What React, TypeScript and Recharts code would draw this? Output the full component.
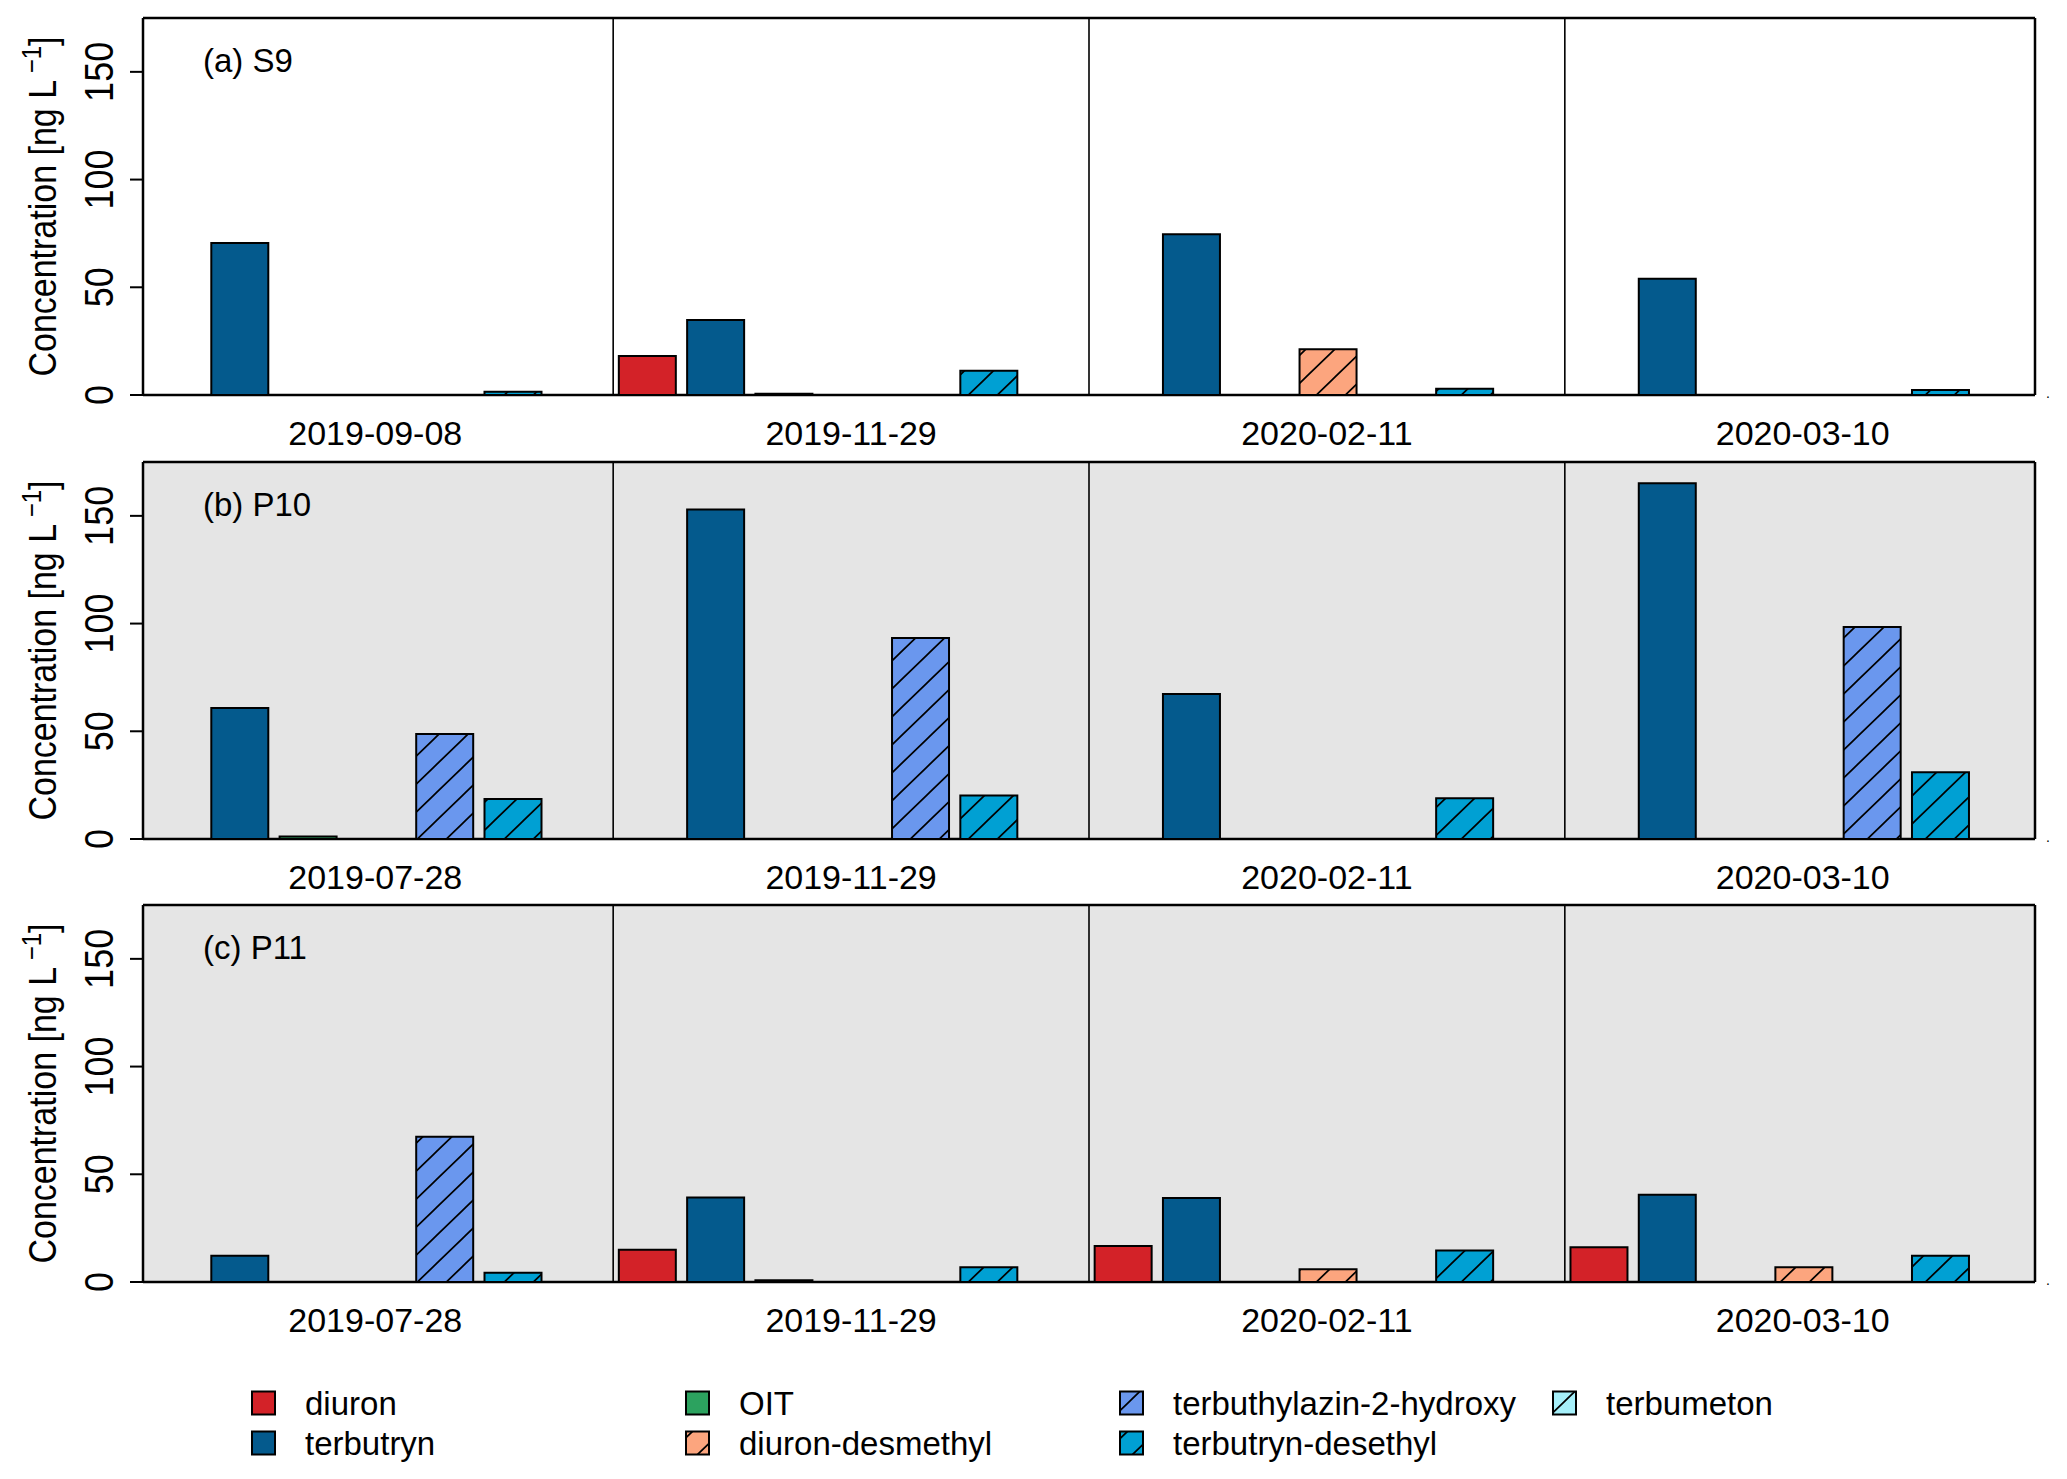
import React from 'react';
import { BarChart, Bar, XAxis, YAxis, CartesianGrid } from 'recharts';

const FONT = '"Liberation Sans", Arial, Helvetica, sans-serif';

// categories
const DATES_S9 = ['2019-09-08', '2019-11-29', '2020-02-11', '2020-03-10'];
const DATES_P = ['2019-07-28', '2019-11-29', '2020-02-11', '2020-03-10'];

// series
const SERIES_KEYS = ['diuron', 'terbutryn', 'oit', 'diuronDesmethyl', 'tbzOH', 'terbutrynDesethyl', 'terbumeton'];
const SERIES_NAMES = ['diuron', 'terbutryn', 'OIT', 'diuron-desmethyl', 'terbuthylazin-2-hydroxy', 'terbutryn-desethyl', 'terbumeton'];
const SERIES_COLORS = ['#D32228', '#045A8D', '#2CA25F', '#FCA57E', '#6A97EE', '#00A0D3', '#A6F0FA'];
const SERIES_HATCHED = [false, false, false, true, true, true, true];

// (a) S9
const S9_DIURON = [0, 18.1, 0, 0];
const S9_TERBUTRYN = [70.5, 34.8, 74.6, 54.0];
const S9_OIT = [0, 0.6, 0, 0];
const S9_DIURON_DESMETHYL = [0, 0, 21.2, 0];
const S9_TBZ_OH = [0, 0, 0, 0];
const S9_TERBUTRYN_DESETHYL = [1.5, 11.3, 2.9, 2.3];
const S9_TERBUMETON = [0, 0, 0, 0];

// (b) P10
const P10_DIURON = [0, 0, 0, 0];
const P10_TERBUTRYN = [60.8, 152.9, 67.3, 165.1];
const P10_OIT = [1.2, 0, 0, 0];
const P10_DIURON_DESMETHYL = [0, 0, 0, 0];
const P10_TBZ_OH = [48.7, 93.3, 0, 98.4];
const P10_TERBUTRYN_DESETHYL = [18.6, 20.2, 18.9, 31.0];
const P10_TERBUMETON = [0, 0, 0, 0];

// (c) P11
const P11_DIURON = [0, 15.0, 16.7, 16.1];
const P11_TERBUTRYN = [12.2, 39.2, 39.0, 40.5];
const P11_OIT = [0, 0.8, 0, 0];
const P11_DIURON_DESMETHYL = [0, 0, 5.9, 6.8];
const P11_TBZ_OH = [67.4, 0, 0, 0];
const P11_TERBUTRYN_DESETHYL = [4.3, 6.8, 14.6, 12.2];
const P11_TERBUMETON = [0, 0, 0, 0];

const Y_TICKS = [0, 50, 100, 150];
const Y_MAX = 175;

const PANELS = [
  {
    id: 'a', label: '(a) S9', dates: DATES_S9, bg: '#FFFFFF', top: 18,
    values: [S9_DIURON, S9_TERBUTRYN, S9_OIT, S9_DIURON_DESMETHYL, S9_TBZ_OH, S9_TERBUTRYN_DESETHYL, S9_TERBUMETON],
  },
  {
    id: 'b', label: '(b) P10', dates: DATES_P, bg: '#E5E5E5', top: 462,
    values: [P10_DIURON, P10_TERBUTRYN, P10_OIT, P10_DIURON_DESMETHYL, P10_TBZ_OH, P10_TERBUTRYN_DESETHYL, P10_TERBUMETON],
  },
  {
    id: 'c', label: '(c) P11', dates: DATES_P, bg: '#E5E5E5', top: 905,
    values: [P11_DIURON, P11_TERBUTRYN, P11_OIT, P11_DIURON_DESMETHYL, P11_TBZ_OH, P11_TERBUTRYN_DESETHYL, P11_TERBUMETON],
  },
];

const W = 2067;
const H = 1479;
const PLOT_LEFT = 143;
const PLOT_RIGHT = 2035;
const PLOT_H = 377;
const TOP_PAD = 4;
const XAXIS_H = 60;
const YAXIS_W = 60;
// R barplot: first/last bar touch the box, so the band range runs past it by half a gap
const BAR_GAP = 11.3;
const EDGE = BAR_GAP / 2;

const LEGEND_X = [252, 686, 1120, 1553];
const LEGEND_ROWS = [1403, 1443];

function buildRows(dates: string[], values: number[][]) {
  return dates.map((d, i) => {
    const row: Record<string, any> = { date: d };
    SERIES_KEYS.forEach((k, s) => {
      row[k] = values[s][i];
    });
    return row;
  });
}

const YTick = (props: any) => {
  const { x, y, payload } = props;
  return (
    <text
      transform={`translate(${x},${y}) rotate(-90) scale(1,1.15)`}
      textAnchor="middle"
      fontSize={36}
      fontFamily={FONT}
      fill="#000"
    >
      {payload.value}
    </text>
  );
};

const XTick = (props: any) => {
  const { x, y, payload } = props;
  return (
    <text x={x} y={y + 50} textAnchor="middle" fontSize={34} fontFamily={FONT} fill="#000">
      {payload.value}
    </text>
  );
};

function Panel({ panel }: { panel: (typeof PANELS)[number] }) {
  const rows = buildRows(panel.dates, panel.values);
  const n = panel.dates.length;
  return (
    <div style={{ position: 'absolute', left: 0, top: panel.top - TOP_PAD }}>
      <BarChart
        width={W}
        height={TOP_PAD + PLOT_H + XAXIS_H}
        data={rows}
        margin={{ top: TOP_PAD, right: W - PLOT_RIGHT, bottom: 0, left: PLOT_LEFT - YAXIS_W }}
        barCategoryGap={EDGE}
        barGap={BAR_GAP}
      >
        <CartesianGrid
          fill={panel.bg}
          fillOpacity={1}
          stroke="#000"
          strokeWidth={2.5}
          horizontalCoordinatesGenerator={({ offset }: any) => [offset.top, offset.top + offset.height]}
          verticalCoordinatesGenerator={({ offset }: any) => [offset.left, offset.left + offset.width]}
        />
        <CartesianGrid
          horizontal={false}
          stroke="#000"
          strokeWidth={1.6}
          verticalCoordinatesGenerator={({ offset }: any) => {
            const start = offset.left - EDGE;
            const band = (offset.width + 2 * EDGE) / n;
            return Array.from({ length: n - 1 }, (_, i) => start + band * (i + 1));
          }}
        />
        <XAxis
          dataKey="date"
          height={XAXIS_H}
          padding={{ left: -EDGE, right: -EDGE }}
          tickSize={0}
          tickMargin={0}
          axisLine={false}
          tickLine={false}
          interval={0}
          tick={<XTick />}
        />
        <YAxis
          type="number"
          width={YAXIS_W}
          domain={[0, Y_MAX]}
          ticks={Y_TICKS}
          allowDataOverflow
          interval={0}
          tickSize={13}
          tickMargin={17}
          axisLine={false}
          tickLine={{ stroke: '#000', strokeWidth: 2 }}
          tick={<YTick />}
        />
        {SERIES_KEYS.map((k, s) => (
          <Bar
            key={k}
            dataKey={k}
            name={SERIES_NAMES[s]}
            fill={SERIES_HATCHED[s] ? `url(#hatch-${k})` : SERIES_COLORS[s]}
            stroke="#000"
            strokeWidth={2}
            isAnimationActive={false}
          />
        ))}
      </BarChart>
    </div>
  );
}

function HatchDefs() {
  const tw = 29;
  const th = 28;
  const k = th / tw;
  const line = (m: number) => {
    const x0 = -8;
    const x1 = tw + 8;
    return `M${x0},${th + m * th - k * x0} L${x1},${th + m * th - k * x1}`;
  };
  return (
    <svg width={0} height={0} style={{ position: 'absolute' }}>
      <defs>
        {SERIES_KEYS.map((key, s) =>
          SERIES_HATCHED[s] ? (
            <pattern key={key} id={`hatch-${key}`} patternUnits="userSpaceOnUse" width={tw} height={th}>
              <rect width={tw} height={th} fill={SERIES_COLORS[s]} />
              <path d={`${line(-1)} ${line(0)} ${line(1)}`} stroke="#000" strokeWidth={1.7} fill="none" />
            </pattern>
          ) : null,
        )}
      </defs>
    </svg>
  );
}

function Overlay() {
  return (
    <svg
      width={W}
      height={H}
      style={{ position: 'absolute', left: 0, top: 0, pointerEvents: 'none' }}
      fontFamily={FONT}
    >
      {PANELS.map((p) => {
        const cy = p.top + PLOT_H / 2;
        return (
          <g key={p.id}>
            <text
              transform={`translate(56,${cy}) rotate(-90) scale(1,1.15)`}
              textAnchor="middle"
              fontSize={34}
              fill="#000"
            >
              Concentration [ng L
              <tspan dy={-13} fontSize={24}>{' \u22121'}</tspan>
              <tspan dy={13}>]</tspan>
            </text>
            <text x={203} y={p.top + 54} fontSize={33} fill="#000">
              {p.label}
            </text>
            <text x={2046} y={p.top + PLOT_H + 3} fontSize={14} fill="#000">
              .
            </text>
          </g>
        );
      })}
      {SERIES_NAMES.map((name, i) => {
        const col = Math.floor(i / 2);
        const row = i % 2;
        const x = LEGEND_X[col];
        const cy = LEGEND_ROWS[row];
        return (
          <g key={name}>
            <rect
              x={x}
              y={cy - 11.5}
              width={23}
              height={23}
              fill={SERIES_HATCHED[i] ? `url(#hatch-${SERIES_KEYS[i]})` : SERIES_COLORS[i]}
              stroke="#000"
              strokeWidth={2}
            />
            <text x={x + 53} y={cy + 12} fontSize={33} fill="#000">
              {name}
            </text>
          </g>
        );
      })}
    </svg>
  );
}

export default function App() {
  return (
    <div
      style={{
        position: 'absolute',
        left: 0,
        top: 0,
        width: W,
        height: H,
        background: '#FFFFFF',
        fontFamily: FONT,
        overflow: 'hidden',
      }}
    >
      <HatchDefs />
      {PANELS.map((p) => (
        <Panel key={p.id} panel={p} />
      ))}
      <Overlay />
    </div>
  );
}
